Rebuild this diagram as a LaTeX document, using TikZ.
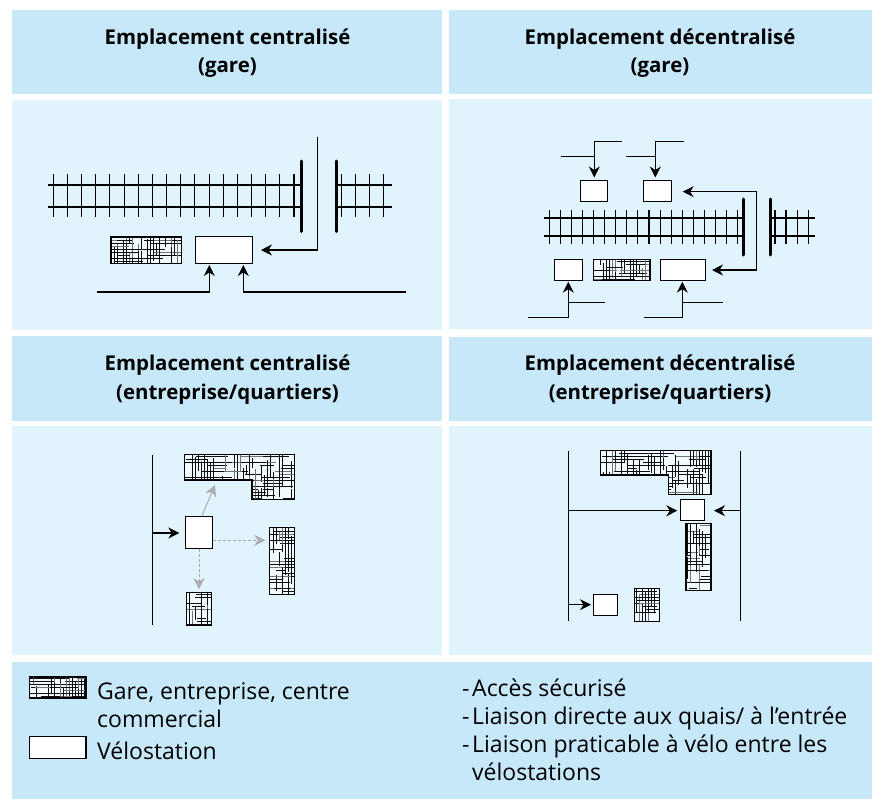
\documentclass[tikz,border=0pt]{standalone}
\usepackage{fontspec}
\setmainfont{Open Sans}
\usetikzlibrary{arrows.meta}
\definecolor{headblue}{RGB}{198,232,249}
\definecolor{paleblue}{RGB}{225,243,252}
\tikzset{
  headbox/.style={fill=headblue,draw=none},
  panelbox/.style={fill=paleblue,draw=none},
  headtext/.style={font=\fontsize{20.4}{28.5}\selectfont\bfseries,align=center},
  legendtext/.style={font=\fontsize{23}{28}\selectfont,align=left,anchor=north west,inner sep=0pt},
  velo/.style={draw=black,fill=white,line width=1pt,inner sep=0pt},
  road/.style={line width=1.1pt},
  link/.style={line width=1.1pt,-{Stealth[length=11pt,width=11pt]}},
  softlink/.style={line width=0.9pt,draw=black!35,-{Stealth[length=11pt,width=11pt,fill=black!30]}},
  rail/.style={line width=2.3pt},
  tie/.style={line width=1.1pt},
  platform/.style={line width=3pt,line cap=round},
}
% crossing strokes on a 3 unit grid
\newcommand{\builtup}[5]{%
  \fill[white!55!paleblue] (#1,#2) rectangle (#3,#4);
  \foreach \k in {1,...,#5} {
    \pgfmathsetmacro{\xa}{3*round((#1+rnd*(#3-#1))/3)}
    \pgfmathsetmacro{\ya}{#2+rnd*(#4-#2)}
    \pgfmathsetmacro{\len}{8+rnd*24}
    \pgfmathsetmacro{\shade}{rnd>0.2 ? 95 : 55}
    \draw[line width=1pt,black!\shade] (\xa,\ya-\len/2) -- (\xa,\ya+\len/2);
    \pgfmathsetmacro{\xb}{#1+rnd*(#3-#1)}
    \pgfmathsetmacro{\yb}{3*round((#2+rnd*(#4-#2))/3)}
    \pgfmathsetmacro{\len}{8+rnd*24}
    \draw[line width=1pt,black!\shade] (\xb-\len/2,\yb) -- (\xb+\len/2,\yb);
  }
}
\newcommand{\blockat}[5]{%
  \begin{scope}
    \clip (#1,#2) rectangle (#3,#4);
    \builtup{#1}{#2}{#3}{#4}{#5}
  \end{scope}
  \draw[line width=1.1pt] (#1,#2) rectangle (#3,#4);
}
% L shaped block: left, top, right, bottom of the arm, notch x, bottom
\newcommand{\blockL}[7]{%
  \begin{scope}
    \clip (#1,#2) -| (#3,#6) -| (#5,#4) -| cycle;
    \builtup{#1}{#2}{#3}{#6}{#7}
  \end{scope}
  \draw[line width=1.1pt] (#1,#2) -| (#3,#6) -| (#5,#4) -| cycle;
}
\begin{document}
\begin{tikzpicture}[x=1pt,y=-1pt]
\pgfmathsetseed{17}
\useasboundingbox (0,0) rectangle (872,800);
% panels
\path[headbox] (12,10) rectangle (442,94);
\path[headbox] (449,10) rectangle (872,94);
\path[panelbox] (12,100) rectangle (442,330);
\path[panelbox] (449,99) rectangle (872,329);
\path[headbox] (12,336) rectangle (442,421);
\path[headbox] (449,337) rectangle (872,421);
\path[panelbox] (12,426) rectangle (442,655);
\path[panelbox] (449,426) rectangle (872,655);
\path[headbox] (12,662) rectangle (872,799);
% headers
\node[headtext] (headA) at (227.5,53) {Emplacement centralisé\\(gare)};
\node[headtext] (headB) at (660,53) {Emplacement décentralisé\\(gare)};
\node[headtext] (headC) at (227.5,379.5) {Emplacement centralisé\\(entreprise/quartiers)};
\node[headtext] (headD) at (660,379.5) {Emplacement décentralisé\\(entreprise/quartiers)};

% centralised station
\draw[rail] (48,184.7) -- (301,184.7);
\draw[rail] (48,206.7) -- (301,206.7);
\draw[rail] (336,184.7) -- (392,184.7);
\draw[rail] (336,206.7) -- (392,206.7);
\foreach \x in {0,...,17} \draw[tie] (53.3+14.16*\x,174) -- (53.3+14.16*\x,217);
\foreach \x in {341.7,355.7,369.4,383.3} \draw[tie] (\x,174) -- (\x,217);
\draw[platform] (301,161) -- (301,231.5);
\draw[platform] (336,161) -- (336,231.5);
\blockat{111}{237}{181.5}{263.3}{34}
\node[velo,minimum width=57pt,minimum height=26.5pt] (veloA) at (223.5,250) {};
\coordinate (roadAtop) at (317.3,136.7);
\coordinate (roadAwest) at (96.7,292);
\coordinate (roadAeast) at (406,292);
\draw[link] (roadAtop) |- (261,250);
\draw[link] (roadAwest) -| (209.3,265);
\draw[link] (roadAeast) -| (243.3,265);

% decentralised station
\draw[rail] (544,218.3) -- (743,218.3);
\draw[rail] (544,235.7) -- (743,235.7);
\draw[rail] (771,218.3) -- (815,218.3);
\draw[rail] (771,235.7) -- (815,235.7);
\foreach \x in {0,...,17} \draw[tie] (549.3+11.08*\x,210) -- (549.3+11.08*\x,244);
\foreach \x in {775,786,797.3,808.3} \draw[tie] (\x,210) -- (\x,244);
\draw[platform] (743.3,199) -- (743.3,255);
\draw[platform] (770.7,199) -- (770.7,255);
\node[velo,minimum width=27.3pt,minimum height=21pt] (veloBa) at (593.7,190.8) {};
\node[velo,minimum width=27.3pt,minimum height=21pt] (veloBb) at (657.4,190.8) {};
\node[velo,minimum width=27.7pt,minimum height=21pt] (veloBc) at (568.2,269.8) {};
\node[velo,minimum width=45pt,minimum height=21pt] (veloBd) at (682.5,269.8) {};
\blockat{593.7}{259.3}{650}{280.3}{26}
\coordinate (roadBa) at (621.7,141.7);
\coordinate (roadBb) at (684,141.7);
\coordinate (roadBc) at (560.7,156.3);
\coordinate (roadBd) at (625.7,156.3);
\coordinate (roadBe) at (528.3,317.3);
\coordinate (roadBf) at (644,317.3);
\coordinate (roadBg) at (605,302.3);
\coordinate (roadBh) at (722.7,302.3);
\coordinate (loopB) at (756.3,230);
\draw[link] (roadBa) -| (594.3,177.5);
\draw[link] (roadBb) -| (655.3,177.5);
\draw[road] (roadBc) -- (594.3,156.3);
\draw[road] (roadBd) -- (655.3,156.3);
\draw[link] (loopB) |- (682.7,191.7);
\draw[link] (loopB) |- (712,270);
\draw[link] (roadBe) -| (568.3,281.7);
\draw[link] (roadBf) -| (682.3,281.7);
\draw[road] (roadBg) -- (568.3,302.3);
\draw[road] (roadBh) -- (682.3,302.3);

% centralised firm
\draw[road] (152.3,455) -- (152.3,625.3);
\coordinate (roadC) at (152.3,533);
\node[velo,minimum width=27.4pt,minimum height=31.7pt] (veloC) at (199,532.8) {};
\blockL{184.3}{454.7}{294.7}{480}{252}{499.3}{58}
\blockat{269.3}{527.7}{294.7}{594.7}{32}
\blockat{186.3}{592.3}{211.7}{625.7}{15}
\draw[link] (roadC) -- (179.3,533);
\draw[softlink] (veloC.north) ++(2.7,0) -- (215,485);
\draw[softlink,densely dashed] (veloC.east |- 0,540.3) -- (265.3,540.3);
\draw[softlink,densely dashed] (veloC.south) -- (199,589);

% decentralised firm
\draw[road] (568.7,451) -- (568.7,621);
\draw[road] (740.7,451) -- (740.7,621);
\coordinate (roadDa) at (568.7,510.7);
\coordinate (roadDb) at (740.7,510.7);
\coordinate (roadDc) at (568.7,604.7);
\blockL{600.7}{450.3}{711}{475}{668.3}{494.3}{58}
\node[velo,minimum width=24.3pt,minimum height=21pt] (veloDa) at (692.2,509.8) {};
\blockat{686}{523.7}{711}{590.7}{32}
\node[velo,minimum width=24.3pt,minimum height=20.7pt] (veloDb) at (605.2,604.7) {};
\blockat{634.3}{588.3}{659.7}{621.7}{15}
\draw[link] (roadDa) -- (677.3,510.7);
\draw[link] (roadDb) -- (714,510.7);
\draw[link] (roadDc) -- (591,604.7);

% legend
\blockat{29.5}{677}{86}{698}{28}
\node[velo,line width=1.3pt,minimum width=56.5pt,minimum height=21.5pt] (veloKey) at (57.7,747.5) {};
\node[legendtext] (keyBlock) at (97,682) {Gare, entreprise, centre\\commercial};
\node[legendtext] (keyVelo) at (97,742) {Vélostation};
\node[legendtext] (keyList) at (462,679) {\makebox[10pt][l]{-}Accès sécurisé\\\makebox[10pt][l]{-}Liaison directe aux quais/ à l’entrée\\\makebox[10pt][l]{-}Liaison praticable à vélo entre les\\\hspace*{10pt}vélostations};
\end{tikzpicture}
\end{document}
